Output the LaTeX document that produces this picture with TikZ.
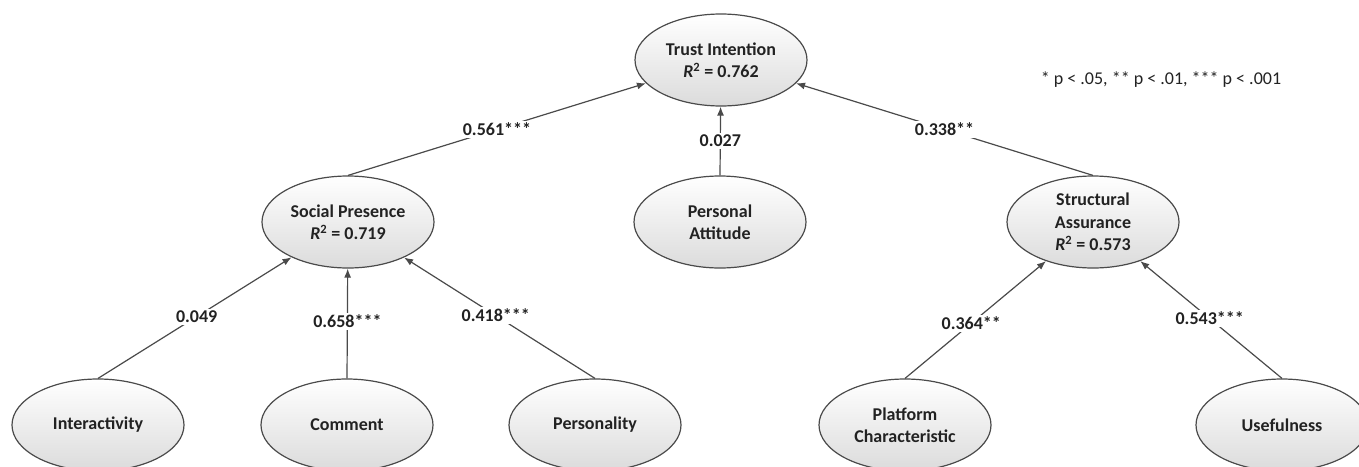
\documentclass[tikz,border=0pt]{standalone}
\usepackage{fontspec}
\setmainfont{Carlito}
\usetikzlibrary{shapes.geometric,arrows.meta}
\definecolor{edgegray}{HTML}{4A4A4A}
\definecolor{txt}{HTML}{222222}
\tikzset{
  construct/.style={ellipse, draw=edgegray, line width=1.2pt, top color=white, bottom color=black!14,
    minimum width=172pt, minimum height=92pt, inner sep=0pt, align=center,
    font=\fontsize{18}{22.5}\selectfont\bfseries, text=txt},
  path/.style={draw=edgegray, line width=1.2pt, -{Latex[length=9pt,width=7pt]}},
  lbl/.style={fill=white, inner sep=2pt, font=\fontsize{18}{22}\selectfont\bfseries, text=txt},
}
\newcommand{\Rsq}{{\itshape R}\textsuperscript{2}}
\begin{document}
\begin{tikzpicture}[x=1pt,y=-1pt]
\useasboundingbox (0,0) rectangle (1359,466);
\node[construct] (ti) at (721,60) {Trust Intention\\\Rsq{} = 0.762};
\node[construct] (sp) at (348,222) {Social Presence\\\Rsq{} = 0.719};
\node[construct] (pa) at (720,222) {Personal\\Attitude};
\node[construct] (sa) at (1093,222) {Structural\\Assurance\\\Rsq{} = 0.573};
\node[construct] (int) at (98,425) {Interactivity};
\node[construct] (com) at (347,425) {Comment};
\node[construct] (per) at (595,425) {Personality};
\node[construct] (pc) at (905,425) {Platform\\Characteristic};
\node[construct] (use) at (1282,425) {Usefulness};
\node[font=\fontsize{18}{22}\selectfont, text=txt] (note) at (1161,80) {* p < .05, ** p < .01, *** p < .001};
\draw[path] (sp.north) -- (ti) node[lbl, midway] {0.561***};
\draw[path] (pa.north) -- (ti) node[lbl, midway] {0.027};
\draw[path] (sa.north) -- (ti) node[lbl, midway] {0.338**};
\draw[path] (int.north) -- (sp) node[lbl, pos=0.51] {0.049};
\draw[path] (com.north) -- (sp) node[lbl, pos=0.52] {0.658***};
\draw[path] (per.north) -- (sp) node[lbl, pos=0.52] {0.418***};
\draw[path] (pc.north) -- (sa) node[lbl, pos=0.47] {0.364**};
\draw[path] (use.north) -- (sa) node[lbl, pos=0.51] {0.543***};
\end{tikzpicture}
\end{document}
